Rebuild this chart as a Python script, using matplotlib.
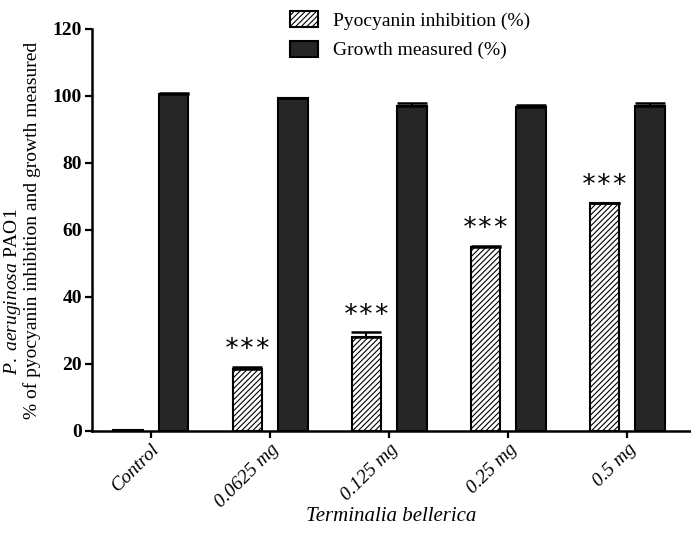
import numpy as np
import matplotlib
matplotlib.use('Agg')
import matplotlib.pyplot as plt

plt.rcParams['font.family'] = ['Liberation Serif', 'DejaVu Serif']
plt.rcParams['mathtext.fontset'] = 'custom'
plt.rcParams['mathtext.it'] = 'Liberation Serif:italic'
plt.rcParams['mathtext.rm'] = 'Liberation Serif'
plt.rcParams['hatch.linewidth'] = 0.8

# data
groups = ['Control', '0.0625 mg', '0.125 mg', '0.25 mg', '0.5 mg']
pyocyanin = [0.2, 18.6, 27.9, 54.8, 67.9]
pyocyanin_err = [0.1, 0.5, 1.5, 0.5, 0.2]
growth = [100.6, 99.3, 97.1, 96.6, 96.9]
growth_err = [0.2, 0.1, 0.9, 0.6, 1.0]
signif = ['', '***', '***', '***', '***']

DARK = '#262626'
BAR_W = 0.25
OFFSET = 0.19

fig = plt.figure(figsize=(6.91, 5.36), dpi=100)
ax = fig.add_axes([0.133, 0.196, 0.866, 0.75])

x = np.arange(len(groups))
err_kw = dict(ecolor='black', elinewidth=1.5, capsize=11, capthick=1.8)

zeros = np.zeros(len(groups))
b1 = ax.bar(x - OFFSET, pyocyanin, BAR_W, color='white', edgecolor='black',
            linewidth=1.5, hatch='//////', label='Pyocyanin inhibition (%)',
            yerr=[zeros, pyocyanin_err], error_kw=err_kw, zorder=2)
b2 = ax.bar(x + OFFSET, growth, BAR_W, color=DARK, edgecolor='black',
            linewidth=1.5, label='Growth measured (%)',
            yerr=[zeros, growth_err], error_kw=err_kw, zorder=2)

for xi, v, e, s in zip(x, pyocyanin, pyocyanin_err, signif):
    if s:
        ax.text(xi - OFFSET, v + e + 5.0, s, ha='center', va='center',
                fontsize=19, family='DejaVu Sans Mono')

ax.set_xlim(-0.496, 4.53)
ax.set_ylim(0, 120)
ax.set_yticks(range(0, 121, 20))
ax.set_xticks(x)
ax.set_xticklabels(groups, rotation=45, ha='right', rotation_mode='anchor',
                   style='italic', fontsize=14)
for lab in ax.get_yticklabels():
    lab.set_fontweight('bold')
    lab.set_fontsize(14)

for side in ['top', 'right']:
    ax.spines[side].set_visible(False)
for side in ['left', 'bottom']:
    ax.spines[side].set_linewidth(1.8)
ax.tick_params(axis='both', direction='out', length=5, width=1.6, pad=2)

ax.set_xlabel('Terminalia bellerica', style='italic', fontsize=15, labelpad=-3)

fig.text(0.018, 0.455, r'$\mathit{P.\ aeruginosa}$ PAO1',
         rotation=90, ha='center', va='center', fontsize=14)
fig.text(0.047, 0.57, '% of pyocyanin inhibition and growth measured',
         rotation=90, ha='center', va='center', fontsize=14)

fig.legend(handles=[b1, b2], loc='upper left', bbox_to_anchor=(0.395, 1.012),
           frameon=False, fontsize=14, handlelength=1.4, handleheight=0.9,
           labelspacing=0.55, handletextpad=0.8)

fig.savefig('out.png', dpi=100)
